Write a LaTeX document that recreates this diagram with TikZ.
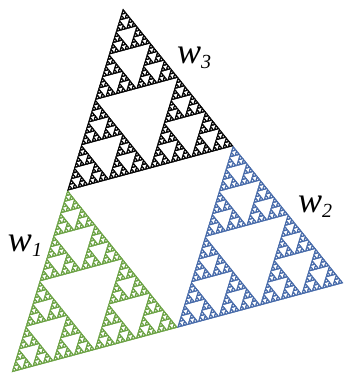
\documentclass[tikz,border=0pt]{standalone}
\usepackage{fontspec}
\newfontfamily\mapfont{Liberation Serif}
\definecolor{mapgreen}{RGB}{104,160,64}
\definecolor{mapblue}{RGB}{68,104,168}

\newcommand{\gasket}[7]{%
  \ifnum#1=0
    \filldraw (#2,#3) -- (#4,#5) -- (#6,#7) -- cycle;
  \else
    \begingroup
    \pgfmathsetmacro\gax{(#2+#4)/2}\pgfmathsetmacro\gay{(#3+#5)/2}%
    \pgfmathsetmacro\gbx{(#4+#6)/2}\pgfmathsetmacro\gby{(#5+#7)/2}%
    \pgfmathsetmacro\gcx{(#2+#6)/2}\pgfmathsetmacro\gcy{(#3+#7)/2}%
    \edef\gasketnext{%
      \noexpand\gasket{\the\numexpr#1-1\relax}{#2}{#3}{\gax}{\gay}{\gcx}{\gcy}%
      \noexpand\gasket{\the\numexpr#1-1\relax}{\gax}{\gay}{#4}{#5}{\gbx}{\gby}%
      \noexpand\gasket{\the\numexpr#1-1\relax}{\gcx}{\gcy}{\gbx}{\gby}{#6}{#7}}%
    \gasketnext
    \endgroup
  \fi}
\newcommand{\wmap}[1]{{\mapfont\itshape w}\raisebox{-0.3ex}{\mapfont\fontsize{10}{10}\selectfont\itshape #1}}

\begin{document}
\begin{tikzpicture}[x=0.5pt, y=-0.5pt, line width=0.2pt, lbl/.style={inner sep=0pt, font=\fontsize{18}{18}\selectfont}]
\useasboundingbox (0,0) rectangle (345,373);
% w1, w2, w3
\begin{scope}[mapgreen]
\gasket{6}{12}{372}{177.5}{327.5}{67.5}{190.5}
\end{scope}
\begin{scope}[mapblue]
\gasket{6}{177.5}{327.5}{343}{283}{233}{146}
\end{scope}
\begin{scope}[black]
\gasket{6}{67.5}{190.5}{233}{146}{123}{9}
\end{scope}

\node[lbl] (wone) at (25,246) {\wmap{1}};
\node[lbl] (wtwo) at (315,207) {\wmap{2}};
\node[lbl] (wthree) at (194,58) {\wmap{3}};
\end{tikzpicture}
\end{document}
